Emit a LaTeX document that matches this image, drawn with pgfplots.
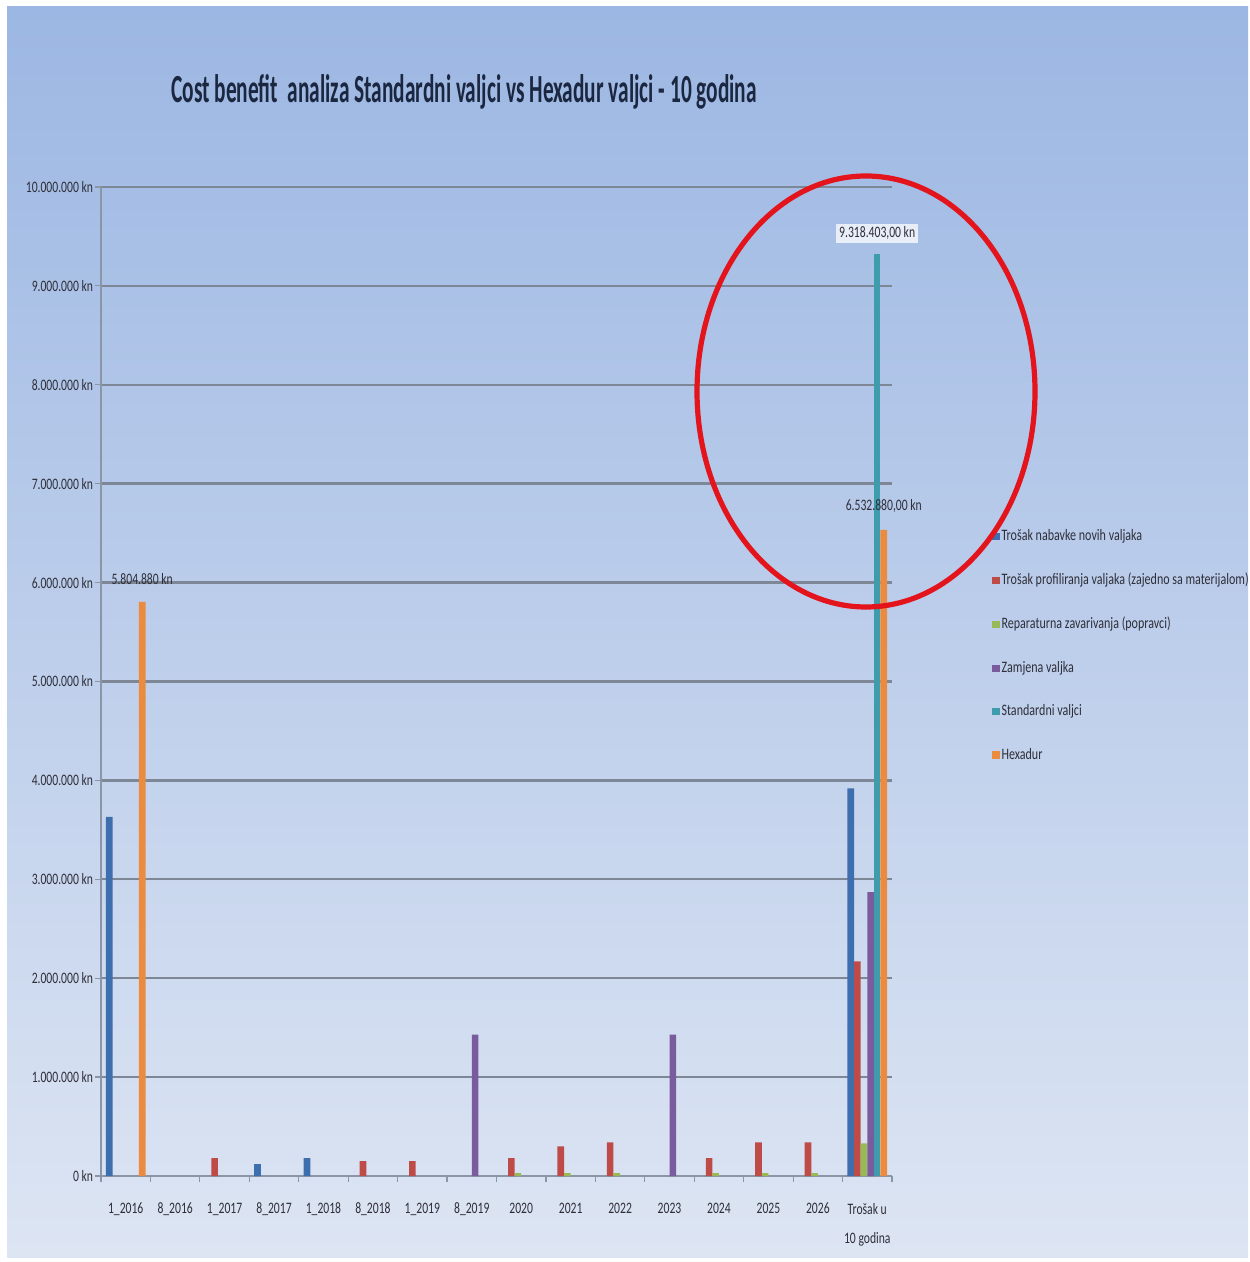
\documentclass[border=0pt]{standalone}
\usepackage{pgfplots}
\pgfplotsset{compat=1.18}
\usepackage{fontspec}
\setmainfont{Carlito}
\newfontfamily\cnd[FakeStretch=0.73]{Carlito}
\newfontfamily\lgd[FakeStretch=0.755]{Carlito}
\newfontfamily\ttl[FakeStretch=0.536]{Carlito}

\definecolor{bgTop}{HTML}{9CB7E3}
\definecolor{bgBot}{HTML}{DDE5F3}
\definecolor{gridC}{HTML}{7D8796}
\definecolor{axC}{HTML}{8A95A6}
\definecolor{txtC}{HTML}{2E2E38}
\definecolor{titleC}{HTML}{1B2740}
\definecolor{sBlue}{HTML}{3D6EAE}
\definecolor{sRed}{HTML}{BE4B48}
\definecolor{sGreen}{HTML}{98B954}
\definecolor{sPurple}{HTML}{7A5C9E}
\definecolor{sTeal}{HTML}{3F9CAD}
\definecolor{sOrange}{HTML}{EB8B3F}
\definecolor{ringC}{HTML}{E3141B}

\begin{document}
\begin{tikzpicture}
% page and background (1 px of the reference = 0.5bp)
\fill[white] (0bp,0bp) rectangle (625bp,631bp);
\shade[top color=bgTop, bottom color=bgBot] (3.5bp,2bp) rectangle (624bp,627.5bp);

\node[font=\ttl\bfseries\fontsize{20}{24}\selectfont, text=titleC] at (232bp,585bp)
  {Cost benefit\ \ analiza Standardni valjci vs Hexadur valjci - 10 godina};

\begin{axis}[
  at={(50.5bp,43bp)}, anchor=south west,
  scale only axis, width=395.5bp, height=494.5bp,
  ybar=0pt, bar width=3.3bp,
  xmin=-0.5, xmax=15.5, ymin=0, ymax=10000000,
  scaled y ticks=false,
  axis x line*=bottom, axis y line*=left,
  axis line style={line width=0.8bp, color=axC},
  tick align=outside, major tick length=3bp,
  tick style={color=axC, line width=0.6bp},
  xtick={-0.5,0.5,...,15.5}, xticklabel={\relax},
  extra x ticks={0,1,...,15},
  extra x tick labels={1\_2016, 8\_2016, 1\_2017, 8\_2017, 1\_2018, 8\_2018, 1\_2019, 8\_2019,
    2020, 2021, 2022, 2023, 2024, 2025, 2026, {Trošak u\\[5.5bp]10 godina}},
  extra x tick style={major tick length=0pt,
    xticklabel style={anchor=north, yshift=-10bp, align=center}},
  ytick={0,1000000,...,10000000},
  yticklabels={0 kn, 1.000.000 kn, 2.000.000 kn, 3.000.000 kn, 4.000.000 kn, 5.000.000 kn,
    6.000.000 kn, 7.000.000 kn, 8.000.000 kn, 9.000.000 kn, 10.000.000 kn},
  yticklabel style={xshift=2.5bp},
  ymajorgrids, major grid style={line width=1.2bp, color=gridC},
  ticklabel style={font=\cnd\fontsize{8}{9}\selectfont, text=txtC},
  legend style={draw=none, fill=none, at={(1.1264,0.656)}, anchor=north west,
    font=\lgd\fontsize{8}{9}\selectfont, text=txtC, row sep=12.7bp,
    inner sep=0pt, nodes={inner sep=1pt}},
  legend cell align=left,
  legend image code/.code={\fill[#1,draw=none] (0bp,-1.8bp) rectangle (3.6bp,1.8bp);},
  nodes near coords style={font=\cnd\fontsize{8}{9}\selectfont, text=txtC, anchor=south},
]
\addplot[fill=sBlue, draw=none] coordinates {(0,3630000) (3,120000) (4,180000) (15,3920000)};
\addplot[fill=sRed, draw=none] coordinates {(2,180000) (5,150000) (6,150000) (8,180000) (9,300000)
  (10,340000) (12,180000) (13,340000) (14,340000) (15,2170000)};
\addplot[fill=sGreen, draw=none] coordinates {(8,30000) (9,30000) (10,30000) (12,30000) (13,30000)
  (14,30000) (15,330000)};
\addplot[fill=sPurple, draw=none] coordinates {(7,1430000) (11,1430000) (15,2870000)};
\addplot[fill=sTeal, draw=none, nodes near coords, point meta=explicit symbolic,
  every node near coord/.append style={fill=white, fill opacity=0.75, text opacity=1,
    inner sep=1.5bp, yshift=5.5bp}]
  coordinates {(15,9318403) [9.318.403,00 kn]};
\addplot[fill=sOrange, draw=none, nodes near coords, point meta=explicit symbolic,
  every node near coord/.append style={yshift=5bp}]
  coordinates {(0,5804880) [5.804.880 kn] (15,6532880) [6.532.880,00 kn]};
\legend{Trošak nabavke novih valjaka, Trošak profiliranja valjaka (zajedno sa materijalom),
  Reparaturna zavarivanja (popravci), Zamjena valjka, Standardni valjci, Hexadur}
\end{axis}

% red ring drawn on the slide
\draw[ringC, line width=2.6bp] (433bp,435.25bp) ellipse [x radius=84.5bp, y radius=107.75bp];

\pgfresetboundingbox
\useasboundingbox (0bp,0bp) rectangle (625bp,631bp);
\end{tikzpicture}
\end{document}
